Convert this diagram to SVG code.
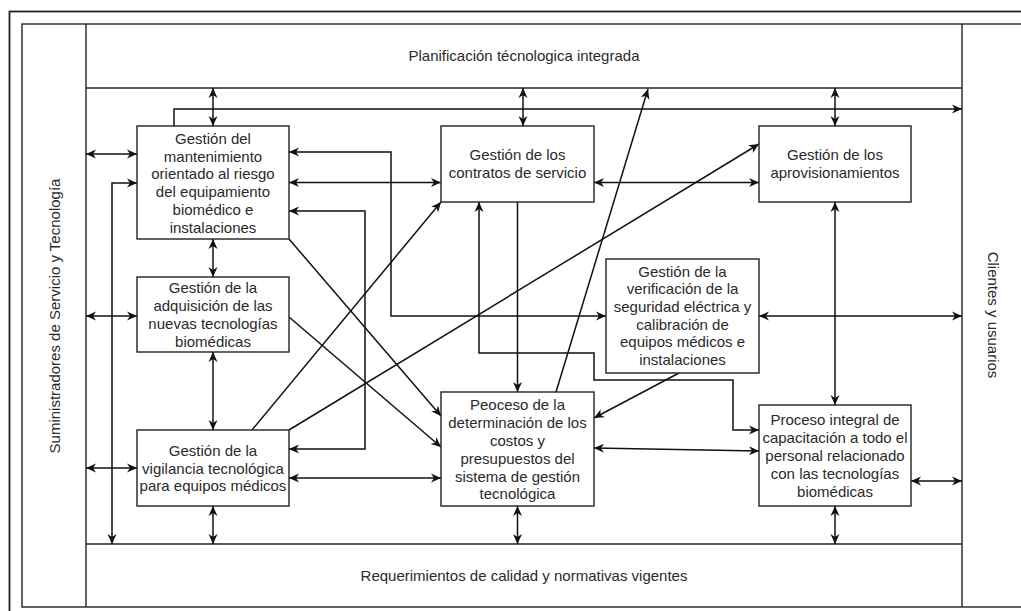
<svg xmlns="http://www.w3.org/2000/svg" width="1021" height="611" viewBox="0 0 1021 611">
<defs>
<marker id="ar" viewBox="0 0 10 10" refX="10" refY="5" markerWidth="10" markerHeight="10" markerUnits="userSpaceOnUse" orient="auto-start-reverse">
<path d="M0,0.5 L10,5 L0,9.5 L3,5 z" fill="#111"/>
</marker>
</defs>
<style>
.frame{fill:none;stroke:#222;stroke-width:1.4}
.outer{fill:none;stroke:#222;stroke-width:1.8}
.box{fill:#fff;stroke:#222;stroke-width:1.4}
.t{font-family:"Liberation Sans",Arial,sans-serif;font-size:15px;fill:#2a2a2a;text-anchor:middle}
.c{fill:none;stroke:#111;stroke-width:1.5}
.d{marker-start:url(#ar);marker-end:url(#ar)}
.s{marker-end:url(#ar)}
</style>
<rect width="1021" height="611" fill="#fff"/>
<g id="frame">
<rect class="outer" x="9.5" y="11.5" width="1100" height="700"/>
<rect class="frame" x="22" y="24" width="1100" height="583"/>
<line class="frame" x1="86" y1="24" x2="86" y2="607"/>
<line class="frame" x1="962" y1="24" x2="962" y2="607"/>
<line class="frame" x1="86" y1="88" x2="962" y2="88"/>
<line class="frame" x1="86" y1="544" x2="962" y2="544"/>
<text class="t" x="524" y="61">Planificación técnologica integrada</text>
<text class="t" x="524" y="581">Requerimientos de calidad y normativas vigentes</text>
<text class="t" transform="translate(54,316) rotate(-90)" dominant-baseline="central">Suministradores de Servicio y Tecnología</text>
<text class="t" transform="translate(993,315) rotate(90)" dominant-baseline="central">Clientes y usuarios</text>
</g>
<g id="connectors">
<line class="c d" x1="213" y1="88" x2="213" y2="126"/>
<line class="c d" x1="523" y1="88" x2="523" y2="126"/>
<line class="c d" x1="835" y1="88" x2="835" y2="126"/>
<line class="c d" x1="86" y1="154" x2="137" y2="154"/>
<line class="c d" x1="213" y1="239" x2="213" y2="277"/>
<line class="c d" x1="86" y1="316" x2="137" y2="316"/>
<line class="c d" x1="213" y1="352" x2="213" y2="430"/>
<line class="c d" x1="86" y1="468" x2="137" y2="468"/>
<line class="c d" x1="213" y1="506" x2="213" y2="544"/>
<line class="c d" x1="289" y1="478" x2="441" y2="478"/>
<line class="c d" x1="289" y1="182.5" x2="441" y2="182.5"/>
<line class="c d" x1="594" y1="182.5" x2="759" y2="182.5"/>
<line class="c d" x1="835" y1="202" x2="835" y2="405"/>
<line class="c d" x1="759" y1="316" x2="962" y2="316"/>
<line class="c d" x1="594" y1="448" x2="759" y2="451"/>
<line class="c d" x1="911" y1="481" x2="962" y2="481"/>
<line class="c d" x1="517.5" y1="506" x2="517.5" y2="544"/>
<line class="c d" x1="835" y1="506" x2="835" y2="544"/>
<path class="c d" d="M137,183 L112,183 L112,544"/>
<path class="c d" d="M289,152 L391,152 L391,316 L606,316"/>
<path class="c d" d="M289,211 L365,211 L365,449 L289,449"/>
<path class="c d" d="M479,202 L479,353 L594,353 L594,380 L733,380 L733,430 L759,430"/>
<path class="c s" d="M174,126 L174,109 L962,109"/>
<line class="c s" x1="556" y1="392" x2="648" y2="89"/>
<line class="c s" x1="252" y1="430" x2="441" y2="202"/>
<line class="c s" x1="289" y1="430" x2="759" y2="144"/>
<line class="c s" x1="289" y1="239" x2="441" y2="416"/>
<line class="c s" x1="289" y1="317" x2="441" y2="447"/>
<line class="c s" x1="517.5" y1="202" x2="517.5" y2="392"/>
<line class="c s" x1="679" y1="373" x2="594" y2="418"/>
</g>
<g id="nodeA">
<rect class="box" x="137" y="126" width="152" height="113"/>
<text class="t"><tspan x="213" y="144">Gestión del</tspan><tspan x="213" y="161.7">mantenimiento</tspan><tspan x="213" y="179.4">orientado al riesgo</tspan><tspan x="213" y="197.1">del equipamiento</tspan><tspan x="213" y="214.8">biomédico e</tspan><tspan x="213" y="232.5">instalaciones</tspan></text>
</g>
<g id="nodeB">
<rect class="box" x="137" y="277" width="152" height="75"/>
<text class="t"><tspan x="213" y="293.3">Gestión de la</tspan><tspan x="213" y="311">adquisición de las</tspan><tspan x="213" y="328.8">nuevas tecnologías</tspan><tspan x="213" y="346.5">biomédicas</tspan></text>
</g>
<g id="nodeC">
<rect class="box" x="137" y="430" width="152" height="76"/>
<text class="t"><tspan x="213" y="456">Gestión de la</tspan><tspan x="213" y="473.5">vigilancia tecnológica</tspan><tspan x="213" y="491">para equipos médicos</tspan></text>
</g>
<g id="nodeD">
<rect class="box" x="441" y="126" width="153" height="76"/>
<text class="t"><tspan x="517.5" y="160">Gestión de los</tspan><tspan x="517.5" y="178">contratos de servicio</tspan></text>
</g>
<g id="nodeE">
<rect class="box" x="759" y="126" width="152" height="76"/>
<text class="t"><tspan x="835" y="160">Gestión de los</tspan><tspan x="835" y="178">aprovisionamientos</tspan></text>
</g>
<g id="nodeF">
<rect class="box" x="606" y="259" width="153" height="114"/>
<text class="t"><tspan x="682.5" y="276.7">Gestión de la</tspan><tspan x="682.5" y="294.3">verificación de la</tspan><tspan x="682.5" y="312">seguridad eléctrica y</tspan><tspan x="682.5" y="329.7">calibración de</tspan><tspan x="682.5" y="347.4">equipos médicos e</tspan><tspan x="682.5" y="365.1">instalaciones</tspan></text>
</g>
<g id="nodeG">
<rect class="box" x="441" y="392" width="153" height="114"/>
<text class="t"><tspan x="517.5" y="410">Peoceso de la</tspan><tspan x="517.5" y="428">determinación de los</tspan><tspan x="517.5" y="446">costos y</tspan><tspan x="517.5" y="463.7">presupuestos del</tspan><tspan x="517.5" y="481.5">sistema de gestión</tspan><tspan x="517.5" y="499.3">tecnológica</tspan></text>
</g>
<g id="nodeH">
<rect class="box" x="759" y="405" width="152" height="101"/>
<text class="t"><tspan x="835" y="425">Proceso integral de</tspan><tspan x="835" y="443">capacitación a todo el</tspan><tspan x="835" y="461">personal relacionado</tspan><tspan x="835" y="479">con las tecnologías</tspan><tspan x="835" y="496.7">biomédicas</tspan></text>
</g>
</svg>
